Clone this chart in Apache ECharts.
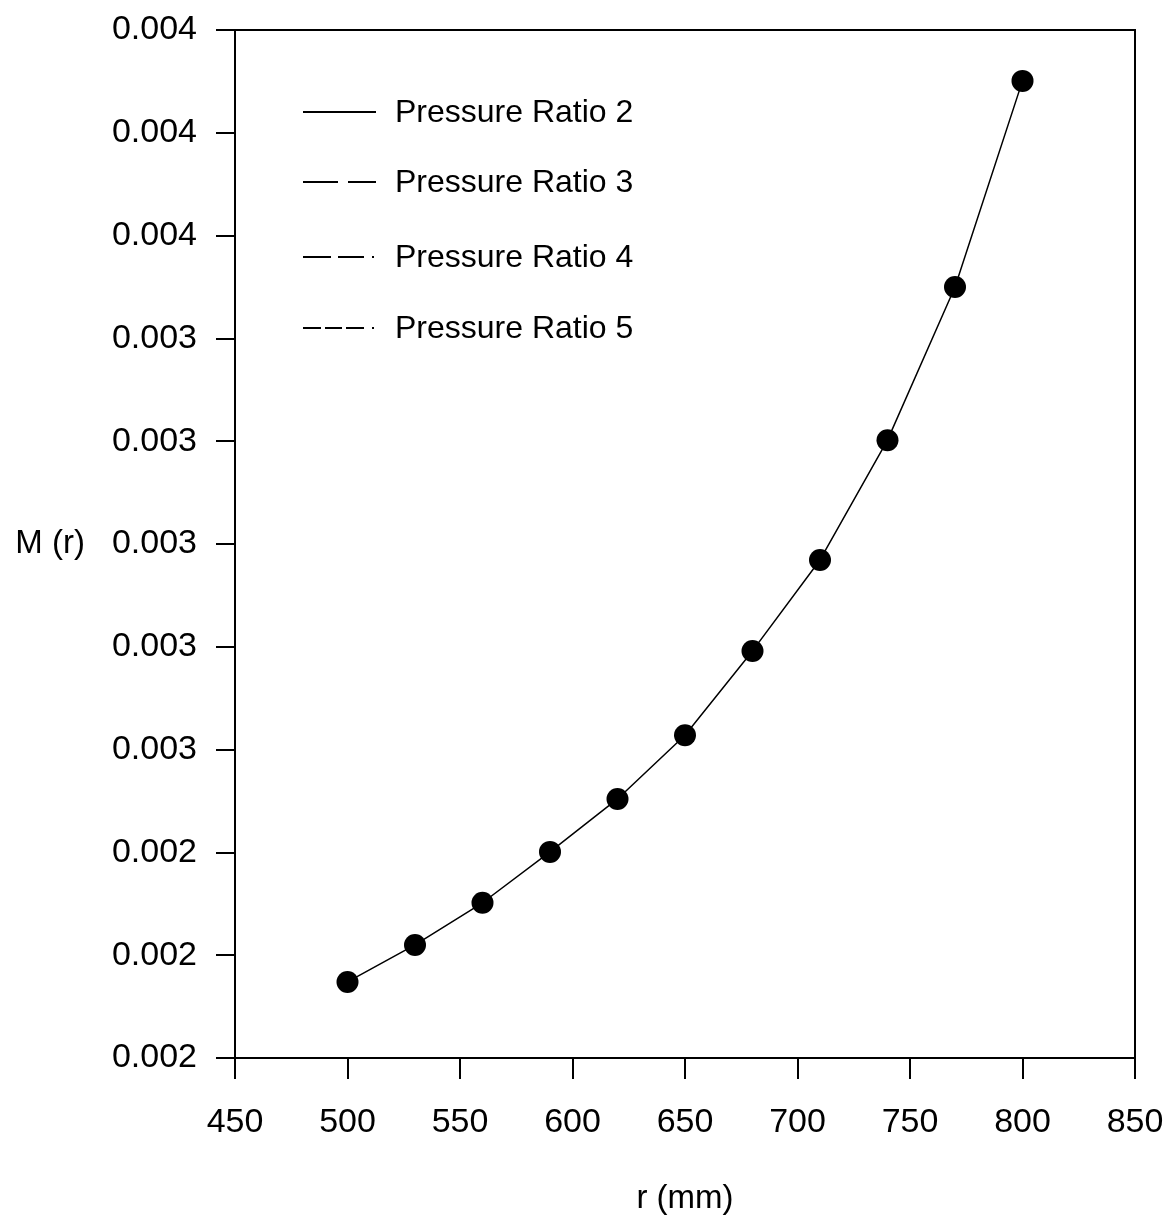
<!DOCTYPE html>
<html>
<head>
<meta charset="utf-8">
<script src="https://cdn.jsdelivr.net/npm/echarts@6/dist/echarts.min.js"></script>
<style>
  html, body { margin: 0; padding: 0; background: #fff; }
  #chart { width: 1169px; height: 1218px; }
</style>
</head>
<body>
<div id="chart"></div>
<script>
// radius r (mm)
const radius = [500, 530, 560, 590, 620, 650, 680, 710, 740, 770, 800];
// M(r) values for pressure ratio 2
const ratio2 = [0.002148, 0.00222, 0.002302, 0.002401, 0.002504, 0.002628, 0.002792, 0.002969, 0.003202, 0.0035, 0.003901];
// legend entries and their dash styles
const legendNames = ['Pressure Ratio 2', 'Pressure Ratio 3', 'Pressure Ratio 4', 'Pressure Ratio 5'];
const legendDash = [null, [35, 10], [28, 7, 26, 8, 2, 20], [18, 4, 17, 4, 18, 8, 2, 20]];

const font = '"Liberation Sans", Arial, sans-serif';
let chart = echarts.init(document.getElementById('chart'));

// legend drawn by hand (line samples + text)
let legendGraphics = [];
const legendY = [112, 182, 257, 328];
legendNames.forEach((name, i) => {
    legendGraphics.push({
        type: 'line',
        shape: { x1: 303, y1: legendY[i], x2: 376, y2: legendY[i] },
        style: { stroke: '#000', lineWidth: 2, lineDash: legendDash[i] || null }
    });
    legendGraphics.push({
        type: 'text',
        x: 395, y: legendY[i] + 1,
        style: { text: name, fill: '#000', font: '32px ' + font, textVerticalAlign: 'middle' }
    });
});

let option = {
    animation: false,
    backgroundColor: '#fff',
    grid: {
        left: 235, right: 34, top: 30, bottom: 160,
        outerBoundsMode: 'none',
        containLabel: false,
        show: true, borderColor: '#000', borderWidth: 2
    },
    xAxis: {
        type: 'value',
        min: 450, max: 850, interval: 50,
        name: 'r (mm)',
        nameLocation: 'middle',
        nameGap: 124,
        nameTextStyle: { fontSize: 33, color: '#000', fontFamily: font },
        axisLine: { lineStyle: { color: '#000', width: 2 } },
        axisTick: { inside: false, length: 21, lineStyle: { color: '#000', width: 2 } },
        axisLabel: { fontSize: 34, color: '#000', fontFamily: font, margin: 48 },
        splitLine: { show: false }
    },
    yAxis: {
        type: 'value',
        min: 0.002, max: 0.004, interval: 0.0002,
        name: 'M (r)',
        nameLocation: 'middle',
        nameRotate: 0,
        nameGap: 150,
        nameTextStyle: { fontSize: 33, color: '#000', fontFamily: font },
        axisLine: { lineStyle: { color: '#000', width: 2 } },
        axisTick: { inside: false, length: 19, lineStyle: { color: '#000', width: 2 } },
        axisLabel: {
            fontSize: 34, color: '#000', fontFamily: font, margin: 38,
            formatter: v => v.toFixed(3)
        },
        splitLine: { show: false }
    },
    series: [{
        name: legendNames[0],
        type: 'line',
        data: radius.map((r, i) => [r, ratio2[i]]),
        symbol: 'circle',
        symbolSize: 22,
        itemStyle: { color: '#000' },
        lineStyle: { color: '#000', width: 1.5 }
    }],
    graphic: legendGraphics
};

chart.setOption(option);
</script>
</body>
</html>
